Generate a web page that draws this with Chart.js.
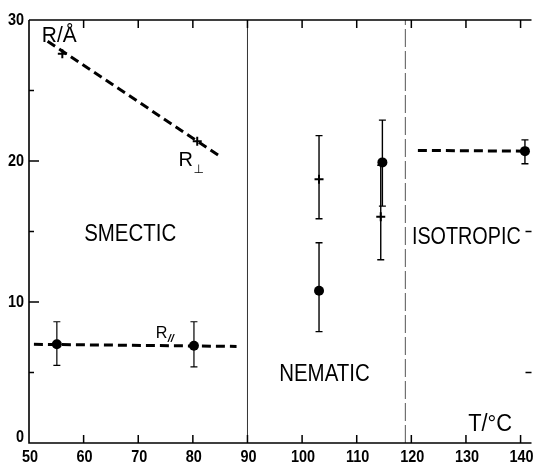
<!DOCTYPE html>
<html>
<head>
<meta charset="utf-8">
<script src="https://cdn.jsdelivr.net/npm/chart.js@4.4.1/dist/chart.umd.min.js"></script>
<style>
  html, body { margin: 0; padding: 0; background: #fff; }
  #wrap { width: 538px; height: 472px; position: relative; }
</style>
</head>
<body>
<div id="wrap"><canvas id="c"></canvas></div>
<script>
// ---------- data ----------
const xTickValues = [50, 60, 70, 80, 90, 100, 110, 120, 130, 140];
const xTickLabels = ['50', '60', '70', '80', '90', '100', '110', '120', '130', '140'];
const yTickValues = [0, 10, 20, 30];
const yTickLabels = ['0', '10', '20', '30'];
const yMinorTicks = [5, 15, 25];

// R_perp (smectic) dashed trend and crosses
const perpLineX = [53.4, 84.7];
const perpLineY = [28.5, 20.4];
const perpPointX = [56.1, 80.8];
const perpPointY = [27.6, 21.4];

// R_parallel (smectic) dashed trend and dots
const parLineX = [50.9, 88.0];
const parLineY = [7.0, 6.85];
const parPointX = [55.1, 80.2];
const parPointY = [7.0, 6.9];
const parLow = [5.5, 5.4];
const parHigh = [8.6, 8.6];

// nematic dots
const nemDotX = [103.1, 114.7];
const nemDotY = [10.8, 19.9];
const nemDotLow = [7.9, 16.8];
const nemDotHigh = [14.2, 22.9];

// nematic crosses
const nemCrossX = [103.1, 114.4];
const nemCrossY = [18.7, 16.05];
const nemCrossLow = [15.9, 13.0];
const nemCrossHigh = [21.8, 19.7];

// isotropic
const isoLineX = [121.2, 140.8];
const isoLineY = [20.75, 20.7];
const isoDotX = [140.8];
const isoDotY = [20.7];
const isoLow = [19.8];
const isoHigh = [21.5];

// phase boundaries
const boundaryX = [90, 118.9];

// ---------- helpers ----------
const pts = (xs, ys) => xs.map((x, i) => ({ x: x, y: ys[i] }));
const vline = (x) => [{ x: x, y: 0 }, { x: x, y: 30 }];

const errorSeries = [
  { x: parPointX, low: parLow, high: parHigh, cap: 3.5, width: 1.2 },
  { x: nemDotX, low: nemDotLow, high: nemDotHigh, cap: 3.5, width: 1.4 },
  { x: nemCrossX, low: nemCrossLow, high: nemCrossHigh, cap: 3.5, width: 1.4 },
  { x: isoDotX, low: isoLow, high: isoHigh, cap: 3.5, width: 1.4 }
];

function drawScaled(ctx, text, px, py, font, sx, align, baseline) {
  ctx.save();
  ctx.font = font;
  ctx.textBaseline = baseline || 'middle';
  ctx.translate(px, py);
  ctx.scale(sx, 1);
  const w = ctx.measureText(text).width;
  let ox = 0;
  if (align === 'center') ox = -w / 2;
  else if (align === 'right') ox = -w;
  ctx.textAlign = 'left';
  ctx.fillText(text, ox, 0);
  ctx.restore();
}

const errorBarPlugin = {
  id: 'errbars',
  beforeDatasetsDraw(chart) {
    const { ctx, scales } = chart;
    const xs = scales.x, ys = scales.y;
    ctx.save();
    ctx.strokeStyle = '#000';
    errorSeries.forEach(s => {
      ctx.lineWidth = s.width;
      s.x.forEach((xv, i) => {
        const px = xs.getPixelForValue(xv);
        const pl = ys.getPixelForValue(s.low[i]);
        const ph = ys.getPixelForValue(s.high[i]);
        ctx.beginPath();
        ctx.moveTo(px, pl); ctx.lineTo(px, ph);
        ctx.moveTo(px - s.cap, pl); ctx.lineTo(px + s.cap, pl);
        ctx.moveTo(px - s.cap, ph); ctx.lineTo(px + s.cap, ph);
        ctx.stroke();
      });
    });
    ctx.restore();
  }
};

const framePlugin = {
  id: 'frame',
  afterDatasetsDraw(chart) {
    const { ctx, chartArea: a, scales } = chart;
    const xs = scales.x, ys = scales.y;
    ctx.save();
    ctx.strokeStyle = '#000';
    ctx.setLineDash([]);
    // axes lines
    ctx.lineWidth = 1.6;
    ctx.beginPath();
    ctx.moveTo(a.left, a.top); ctx.lineTo(a.left, a.bottom); ctx.lineTo(a.right, a.bottom);
    ctx.moveTo(a.left, a.top); ctx.lineTo(a.right, a.top);
    ctx.stroke();
    // inward ticks
    ctx.lineWidth = 1.5;
    ctx.beginPath();
    xTickValues.forEach(v => {
      if (v === xs.min) return;
      const px = xs.getPixelForValue(v);
      ctx.moveTo(px, a.bottom); ctx.lineTo(px, a.bottom - 8);
      ctx.moveTo(px, a.top); ctx.lineTo(px, a.top + 8);
    });
    yTickValues.forEach(v => {
      if (v === ys.min || v === ys.max) return;
      const py = ys.getPixelForValue(v);
      ctx.moveTo(a.left, py); ctx.lineTo(a.left + 10, py);
    });
    yMinorTicks.forEach(v => {
      const py = ys.getPixelForValue(v);
      ctx.moveTo(a.left, py); ctx.lineTo(a.left + 5, py);
    });
    [5, 15].forEach(v => {
      const py = ys.getPixelForValue(v);
      ctx.moveTo(a.right, py); ctx.lineTo(a.right - 6, py);
    });
    ctx.stroke();

    // tick labels
    ctx.fillStyle = '#000';
    const tf = 'bold 17px "Liberation Sans Narrow", "Liberation Sans", sans-serif';
    xTickValues.forEach((v, i) => {
      const px = xs.getPixelForValue(v);
      drawScaled(ctx, xTickLabels[i], px + 1, a.bottom + 14, tf, 0.85, 'center', 'middle');
    });
    yTickValues.forEach((v, i) => {
      let py = ys.getPixelForValue(v);
      if (v === 0) py -= 6;
      drawScaled(ctx, yTickLabels[i], a.left - 5, py, tf, 0.85, 'right', 'middle');
    });

    // annotations
    const big = '23px "Liberation Sans", Arial, sans-serif';
    const at = (xv, yv) => [xs.getPixelForValue(xv), ys.getPixelForValue(yv)];
    let p;
    p = at(60.1, 14.75); drawScaled(ctx, 'SMECTIC', p[0], p[1], big, 0.89, 'left', 'middle');
    p = at(95.8, 4.82); drawScaled(ctx, 'NEMATIC', p[0], p[1], big, 0.89, 'left', 'middle');
    p = at(120.1, 14.54); drawScaled(ctx, 'ISOTROPIC', p[0], p[1], big, 0.86, 'left', 'middle');
    p = at(130.4, 1.28); drawScaled(ctx, 'T/°C', p[0], p[1], '23px "Liberation Sans", Arial, sans-serif', 0.95, 'left', 'middle');
    p = at(52.35, 28.44); drawScaled(ctx, 'R/Å', p[0], p[1], '22px "Liberation Sans", Arial, sans-serif', 0.95, 'left', 'alphabetic');
    // R perp
    p = at(77.35, 20.07); drawScaled(ctx, 'R', p[0], p[1], '21px "Liberation Sans", Arial, sans-serif', 0.95, 'left', 'middle');
    drawScaled(ctx, '⊥', p[0] + 15, p[1] + 10, '12px "DejaVu Sans", sans-serif', 1, 'left', 'middle');
    // R parallel
    p = at(73.2, 7.8); drawScaled(ctx, 'R', p[0], p[1], '17px "Liberation Sans", Arial, sans-serif', 0.95, 'left', 'middle');
    drawScaled(ctx, '//', p[0] + 12, p[1] + 6, 'italic bold 11px "Liberation Sans", Arial, sans-serif', 1, 'left', 'middle');
    ctx.restore();
  }
};

const dashedLine = (data) => ({
  data: data, showLine: true, borderColor: '#000', borderWidth: 3,
  borderDash: [9, 5], pointRadius: 0, fill: false
});
const dots = (data) => ({
  data: data, showLine: false, pointStyle: 'circle', pointRadius: 5,
  backgroundColor: '#000', borderColor: '#000', borderWidth: 0
});
const crosses = (data) => ({
  data: data, showLine: false, pointStyle: 'cross', pointRadius: 4.5,
  borderColor: '#000', borderWidth: 2
});

new Chart(document.getElementById('c'), {
  type: 'scatter',
  data: {
    datasets: [
      { data: vline(boundaryX[0]), showLine: true, borderColor: '#333', borderWidth: 1, pointRadius: 0 },
      { data: vline(boundaryX[1]), showLine: true, borderColor: '#555', borderWidth: 1, borderDash: [18, 4], pointRadius: 0 },
      dashedLine(pts(perpLineX, perpLineY)),
      crosses(pts(perpPointX, perpPointY)),
      dashedLine(pts(parLineX, parLineY)),
      dots(pts(parPointX, parPointY)),
      dots(pts(nemDotX, nemDotY)),
      crosses(pts(nemCrossX, nemCrossY)),
      dashedLine(pts(isoLineX, isoLineY)),
      dots(pts(isoDotX, isoDotY))
    ]
  },
  options: {
    responsive: true,
    maintainAspectRatio: false,
    animation: false,
    events: [],
    layout: { padding: { left: 29, right: 1, top: 20, bottom: 29 } },
    plugins: { legend: { display: false }, tooltip: { enabled: false } },
    scales: {
      x: { type: 'linear', min: 50, max: 142, display: false },
      y: { type: 'linear', min: 0, max: 30, display: false }
    }
  },
  plugins: [errorBarPlugin, framePlugin]
});
</script>
</body>
</html>
